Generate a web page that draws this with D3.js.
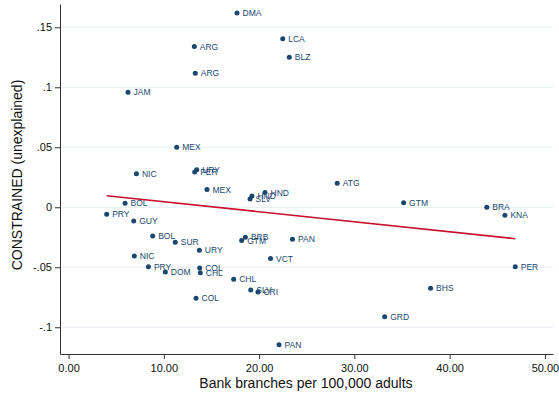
<!DOCTYPE html>
<html>
<head>
<meta charset="utf-8">
<script src="https://cdn.jsdelivr.net/npm/d3@7"></script>
<style>
  body { margin: 0; background: #fff; }
  text { font-family: "Liberation Sans", Arial, Helvetica, sans-serif; }
</style>
</head>
<body>
<div id="chart"></div>
<script>
// data
var countries = ["DMA","LCA","ARG","BLZ","ARG","JAM","MEX","NIC","URY","PER","MEX","HND","HND","SLV",
  "ATG","GTM","BRA","KNA","BOL","PRY","GUY","BOL","SUR","URY","BRB","GTM","PAN","NIC","VCT",
  "PRY","DOM","COL","CHL","CHL","SLV","CRI","COL","PAN","PER","BHS","GRD"];
var branches = [17.68,22.48,13.2,23.17,13.3,6.24,11.35,7.12,13.45,13.24,14.53,20.62,19.25,19.05,
  28.2,35.17,43.9,45.8,5.93,4.0,6.84,8.83,11.2,13.73,18.56,18.17,23.5,6.9,21.2,
  8.38,10.16,13.76,13.83,17.33,19.12,19.88,13.38,22.09,46.89,38.0,33.18];
var constrained = [0.162,0.1405,0.134,0.125,0.1117,0.0958,0.050,0.028,0.0313,0.0294,0.0147,0.0122,0.0094,0.0069,
  0.020,0.0038,0.0,-0.0067,0.0033,-0.0058,-0.0114,-0.0239,-0.0292,-0.0358,-0.025,-0.0278,-0.0267,-0.0406,-0.0428,
  -0.0495,-0.0539,-0.0506,-0.0545,-0.060,-0.0689,-0.0706,-0.0758,-0.1145,-0.0495,-0.0675,-0.0912];

// fitted line
var fitIntercept = 0.0130;
var fitSlope = -0.000836;

var xTicks = [0, 10, 20, 30, 40, 50];
var yTicks = [-0.1, -0.05, 0, 0.05, 0.1, 0.15];
var yTickLabels = ["-.1", "-.05", "0", ".05", ".1", ".15"];

var data = countries.map(function(c, i) {
  return { name: c, x: branches[i], y: constrained[i] };
});

var width = 559, height = 396;
var navy = "#1a476f";

var svg = d3.select("#chart")
  .append("svg")
    .attr("width", width)
    .attr("height", height);

var x = d3.scaleLinear().domain([-0.9, 50.85]).range([60, 553]);
var y = d3.scaleLinear().domain([-0.1223, 0.1694]).range([354, 4]);

// gridlines
svg.append("g")
  .selectAll("line")
  .data(yTicks)
  .join("line")
    .attr("x1", 60)
    .attr("x2", 553)
    .attr("y1", function(d) { return y(d); })
    .attr("y2", function(d) { return y(d); })
    .attr("stroke", "#e4edf0")
    .attr("stroke-width", 1);

// x axis
var xAxis = svg.append("g")
  .attr("transform", "translate(0,354)")
  .call(d3.axisBottom(x).tickValues(xTicks).tickFormat(d3.format(".2f")).tickSize(5).tickSizeOuter(0));
xAxis.select(".domain").attr("stroke", "#333");
xAxis.selectAll(".tick line").attr("stroke", "#333");
xAxis.selectAll("text")
  .attr("font-size", 11)
  .attr("fill", "#111")
  .attr("dy", "0.95em");

// y axis
var yAxis = svg.append("g")
  .attr("transform", "translate(60,0)")
  .call(d3.axisLeft(y).tickValues(yTicks)
    .tickFormat(function(d, i) { return yTickLabels[i]; })
    .tickSize(5).tickSizeOuter(0).tickPadding(3));
yAxis.select(".domain").attr("stroke", "#333");
yAxis.selectAll(".tick line").attr("stroke", "#333");
yAxis.selectAll("text")
  .attr("font-size", 11)
  .attr("fill", "#111");

// axis titles
svg.append("text")
  .attr("x", 306)
  .attr("y", 388)
  .attr("text-anchor", "middle")
  .attr("font-size", 14)
  .attr("fill", "#111")
  .text("Bank branches per 100,000 adults");

svg.append("text")
  .attr("transform", "translate(22,175) rotate(-90)")
  .attr("text-anchor", "middle")
  .attr("font-size", 14)
  .attr("fill", "#111")
  .text("CONSTRAINED (unexplained)");

// points
svg.append("g")
  .selectAll("circle")
  .data(data)
  .join("circle")
    .attr("cx", function(d) { return x(d.x); })
    .attr("cy", function(d) { return y(d.y); })
    .attr("r", 2.5)
    .attr("fill", navy);

// labels
svg.append("g")
  .selectAll("text")
  .data(data)
  .join("text")
    .attr("x", function(d) { return x(d.x) + 5.5; })
    .attr("y", function(d) { return y(d.y); })
    .attr("dy", "0.36em")
    .attr("font-size", 8.5)
    .attr("fill", navy)
    .text(function(d) { return d.name; });

// fit line over range of x
var xExt = d3.extent(branches);
svg.append("path")
  .datum(xExt)
  .attr("fill", "none")
  .attr("stroke", "#c8102e")
  .attr("stroke-width", 1.6)
  .attr("d", d3.line()
    .x(function(d) { return x(d); })
    .y(function(d) { return y(fitIntercept + fitSlope * d); }));
</script>
</body>
</html>
